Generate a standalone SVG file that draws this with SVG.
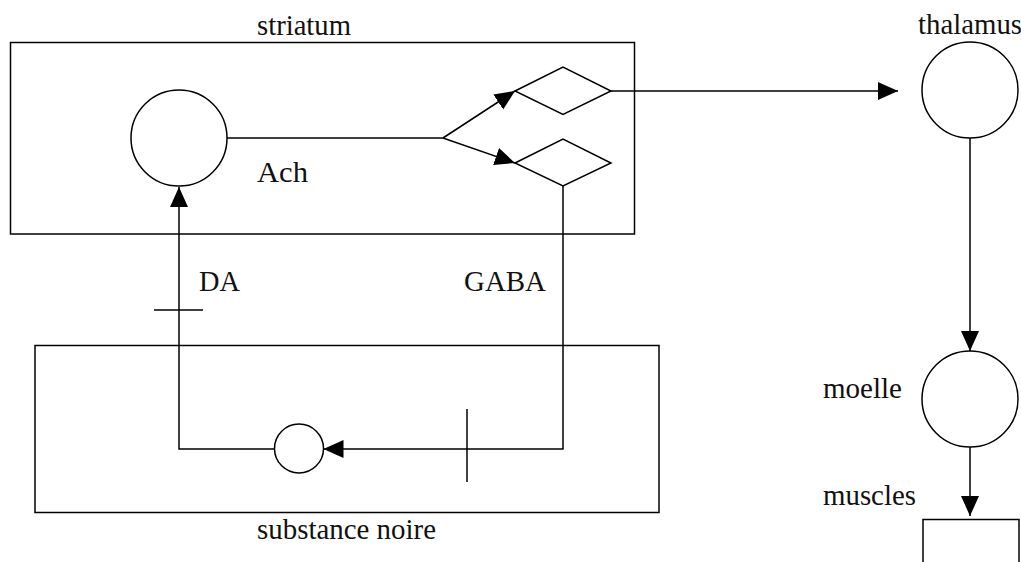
<svg xmlns="http://www.w3.org/2000/svg" width="1021" height="562" viewBox="0 0 1021 562">
<style>
.s{fill:none;stroke:#000;stroke-width:1.5}
.n{fill:#fff;stroke:#000;stroke-width:1.5}
.c{fill:none;stroke:#000;stroke-width:1.5}
text{font-family:"Liberation Serif","Times New Roman",serif;font-size:28.8px;fill:#111}
</style>
<defs>
<marker id="ah" markerUnits="userSpaceOnUse" markerWidth="20" markerHeight="20" refX="20" refY="10" orient="auto" viewBox="0 0 20 20">
<path d="M0,1 L20,10 L0,19 z" fill="#000"/>
</marker>
</defs>
<rect width="1021" height="562" fill="#fff"/>
<g id="striatum">
<rect class="s" x="10.5" y="42.5" width="624" height="191.5"/>
<text x="257" y="35" textLength="94" lengthAdjust="spacingAndGlyphs">striatum</text>
</g>
<g id="substance-noire">
<rect class="s" x="35" y="345.5" width="624" height="167"/>
<text x="257" y="539" textLength="179" lengthAdjust="spacingAndGlyphs">substance noire</text>
</g>
<g id="ach">
<circle class="n" cx="179" cy="138" r="48"/>
<text x="257" y="182" textLength="51" lengthAdjust="spacingAndGlyphs">Ach</text>
</g>
<g id="diamond-upper">
<polygon class="n" points="515,91 563,67 611,91 563,114.5"/>
</g>
<g id="diamond-lower">
<polygon class="n" points="515,163 563,139 611,163 563,186"/>
</g>
<g id="sn-neuron">
<circle class="n" cx="299" cy="448.5" r="24.5"/>
</g>
<g id="thalamus">
<circle class="n" cx="970" cy="90" r="48"/>
<text x="918" y="34" textLength="104" lengthAdjust="spacingAndGlyphs">thalamus</text>
</g>
<g id="moelle">
<circle class="n" cx="970" cy="399" r="48"/>
<text x="823" y="398" textLength="79" lengthAdjust="spacingAndGlyphs">moelle</text>
</g>
<g id="muscles">
<rect class="s" x="923" y="519.5" width="96" height="60"/>
<text x="823" y="505" textLength="93" lengthAdjust="spacingAndGlyphs">muscles</text>
</g>
<g id="connectors">
<polyline class="c" points="227,138 443,138"/>
<line class="c" x1="443" y1="138" x2="515" y2="91" marker-end="url(#ah)"/>
<line class="c" x1="443" y1="138" x2="515" y2="163" marker-end="url(#ah)"/>
<line class="c" x1="611" y1="91" x2="898" y2="91" marker-end="url(#ah)"/>
<line class="c" x1="970" y1="138" x2="970" y2="351" marker-end="url(#ah)"/>
<line class="c" x1="970" y1="447" x2="970" y2="516" marker-end="url(#ah)"/>
<polyline class="c" points="563,186 563,449 323.5,449" marker-end="url(#ah)"/>
<polyline class="c" points="274.5,449 179,449 179,187" marker-end="url(#ah)"/>
<line class="c" x1="154" y1="310" x2="203" y2="310"/>
<line class="c" x1="467" y1="409" x2="467" y2="482"/>
<text x="199" y="291" textLength="41" lengthAdjust="spacingAndGlyphs">DA</text>
<text x="464" y="291" textLength="82" lengthAdjust="spacingAndGlyphs">GABA</text>
</g>
</svg>
